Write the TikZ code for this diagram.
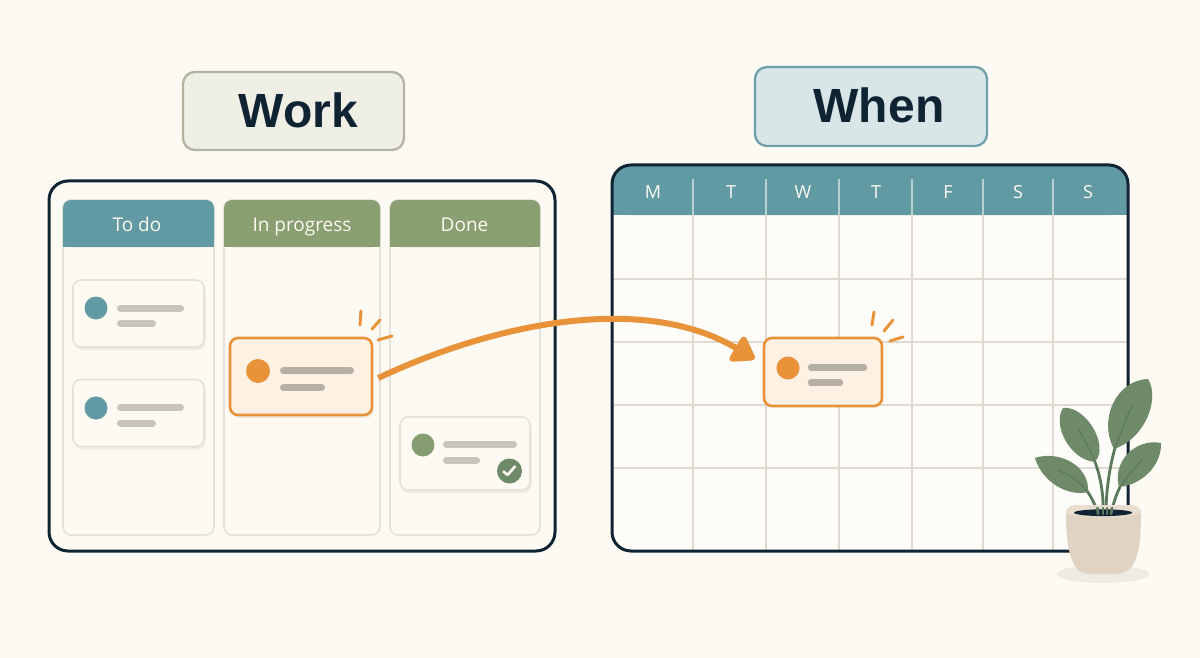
\documentclass[tikz,border=0pt]{standalone}
\usepackage{fontspec}
\setmainfont{Open Sans}
\newfontfamily\titlefont{Liberation Sans}
\usetikzlibrary{calc,shadows,arrows.meta}
\definecolor{paper}{HTML}{FDFAF3}
\definecolor{ink}{HTML}{0F2333}
\definecolor{teal}{HTML}{629AA3}
\definecolor{moss}{HTML}{8A9F72}
\definecolor{leafgreen}{HTML}{6F8A68}
\definecolor{veingreen}{HTML}{5A785C}
\definecolor{amber}{HTML}{E8923A}
\definecolor{amberfill}{HTML}{FDF1E4}
\definecolor{rule}{HTML}{E6E1D9}
\definecolor{gridrule}{HTML}{E0DAD1}
\definecolor{bar}{HTML}{C8C4BB}
\definecolor{barwarm}{HTML}{B6AFA4}
\definecolor{potclay}{HTML}{E0D3C1}
\definecolor{workfill}{HTML}{EFEFE5}
\definecolor{workline}{HTML}{B3B3A2}
\definecolor{whenfill}{HTML}{D9E6E8}
\definecolor{whenline}{HTML}{6FA0A8}
\tikzset{
  x=1pt, y=-1pt,
  titlebox/.style={draw, line width=2.3pt, rounded corners=12pt, inner sep=0pt},
  titletext/.style={font=\titlefont\fontsize{48}{48}\selectfont\bfseries, text=ink, inner sep=0pt},
  board/.style={draw=ink, line width=3pt, rounded corners=19pt, fill=paper},
  column/.style={draw=rule, line width=1.6pt, rounded corners=8pt, fill=paper, inner sep=0pt},
  headlabel/.style={font=\fontsize{19}{19}\selectfont, text=paper, inner sep=0pt, anchor=base},
  daylabel/.style={font=\fontsize{18}{18}\selectfont, text=paper, inner sep=0pt, anchor=base},
  card/.style={draw=rule, line width=1.6pt, rounded corners=8pt, fill=paper, inner sep=0pt,
    general shadow={fill=black!6!paper, shadow xshift=1.5pt, shadow yshift=-3pt}},
  activecard/.style={draw=amber, line width=2.6pt, rounded corners=8pt, fill=amberfill, inner sep=0pt},
  dot/.style={circle, inner sep=0pt, minimum size=23pt, fill=#1},
  textbar/.style={line cap=round, line width=7pt, draw=bar},
  warmbar/.style={line cap=round, line width=7pt, draw=barwarm},
  spark/.style={line cap=round, line width=3pt, draw=amber},
  flow/.style={draw=amber, line width=6pt, -{Triangle[length=25pt,width=32pt,round]}},
  gridline/.style={draw=gridrule, line width=1.8pt},
  headrule/.style={draw=white!35!teal!70!paper, line width=1.5pt},
  leaf/.style={fill=leafgreen},
  vein/.style={draw=veingreen, line width=1.2pt, line cap=round},
  stem/.style={draw=veingreen, line width=2.8pt, line cap=round},
}
\begin{document}
\begin{tikzpicture}
\path[use as bounding box, fill=paper] (0,0) rectangle (1200,658);

% Titles
\node[titlebox, draw=workline, fill=workfill, minimum width=221pt, minimum height=78pt] (worktitle) at (293.5,111) {};
\node[titletext] (worklabel) at (298.5,110) {Work};
\node[titlebox, draw=whenline, fill=whenfill, minimum width=232pt, minimum height=79pt] (whentitle) at (871,106.5) {};
\node[titletext] (whenlabel) at (879,105) {When};

% Kanban board
\path[board] (49,181) rectangle (555,551);

\node[column, minimum width=151pt, minimum height=335pt] (coltodo) at (138.5,367.5) {};
\node[column, minimum width=156pt, minimum height=335pt] (colprogress) at (302,367.5) {};
\node[column, minimum width=150pt, minimum height=335pt] (coldone) at (465,367.5) {};

\fill[teal, rounded corners=8pt] (63,247) -- (63,200) -- (214,200) -- (214,247) -- cycle;
\fill[moss, rounded corners=8pt] (224,247) -- (224,200) -- (380,200) -- (380,247) -- cycle;
\fill[moss, rounded corners=8pt] (390,247) -- (390,200) -- (540,200) -- (540,247) -- cycle;
\fill[teal] (63,238) rectangle (214,247);
\fill[moss] (224,238) rectangle (380,247);
\fill[moss] (390,238) rectangle (540,247);
\node[headlabel] (headtodo) at (137,231) {To do};
\node[headlabel] (headprogress) at (302,231) {In progress};
\node[headlabel] (headdone) at (464.5,231) {Done};

% To do cards
\node[card, minimum width=131pt, minimum height=67pt] (cardone) at (138.5,313.5) {};
\node[dot=teal] (dotone) at (96,308) {};
\draw[textbar] (120.5,308) -- (180.5,308);
\draw[textbar] (120.5,323.5) -- (152.5,323.5);
\node[card, minimum width=131pt, minimum height=67pt] (cardtwo) at (138.5,413) {};
\node[dot=teal] (dottwo) at (96,408) {};
\draw[textbar] (120.5,407.5) -- (180.5,407.5);
\draw[textbar] (120.5,423) -- (152.5,423);

% Done card with its check badge
\node[card, minimum width=130pt, minimum height=73pt] (carddone) at (465,453.5) {};
\node[dot=moss!85!leafgreen] (dotdone) at (423,445) {};
\draw[textbar] (446.5,444.5) -- (513.5,444.5);
\draw[textbar] (446.5,460) -- (476.5,460);
\node[circle, inner sep=0pt, minimum size=25pt, fill=leafgreen] (badge) at (509.5,471) {};
\draw[draw=paper, line width=2.6pt, line cap=round, line join=round] (503.5,471.5) -- (507.5,475) -- (515,466.5);

% Card being moved, on the board
\node[activecard, general shadow={fill=black!6!paper, shadow xshift=1.5pt, shadow yshift=-3pt}, minimum width=142pt, minimum height=77pt] (cardwip) at (301,376.5) {};
\node[dot=amber, minimum size=24pt] (dotwip) at (258,371) {};
\draw[warmbar] (283.5,370.5) -- (350.5,370.5);
\draw[warmbar] (283.5,387.5) -- (321.5,387.5);
\draw[spark] (361,311) -- (360,325);
\draw[spark] (380,320) -- (372,329);
\draw[spark] (392,336) -- (378,340);

% Calendar
\fill[paper!60!white, rounded corners=18pt] (612,165) rectangle (1128,551);
\fill[teal, rounded corners=18pt] (612,215) -- (612,165) -- (1128,165) -- (1128,215) -- cycle;
\fill[teal] (612,200) rectangle (1128,215);
\foreach \xpos in {693,766,839,912,983,1053} {
  \draw[headrule] (\xpos,179) -- (\xpos,215);
  \draw[gridline] (\xpos,215) -- (\xpos,551);
}
\foreach \ypos in {279,342,405,468} {
  \draw[gridline] (612,\ypos) -- (1128,\ypos);
}
\path[board, fill=none] (612,165) rectangle (1128,551);
\node[daylabel] (mon) at (653,198.5) {M};
\node[daylabel] (tue) at (731,198.5) {T};
\node[daylabel] (wed) at (803,198.5) {W};
\node[daylabel] (thu) at (876,198.5) {T};
\node[daylabel] (fri) at (948,198.5) {F};
\node[daylabel] (sat) at (1018,198.5) {S};
\node[daylabel] (sun) at (1088,198.5) {S};

% Same card, placed on the calendar
\node[activecard, minimum width=118pt, minimum height=68pt] (cardslot) at (823,372) {};
\node[dot=amber] (dotslot) at (788,368) {};
\draw[warmbar, line width=6.5pt] (811,367.5) -- (864,367.5);
\draw[warmbar, line width=6.5pt] (811,382.5) -- (840,382.5);
\draw[spark] (874,312) -- (872,325);
\draw[spark] (893,320) -- (884,331);
\draw[spark] (903,337) -- (890,341);

% Arrow from the board to the calendar
\coordinate (flowstart) at ($(cardwip.east)+(5,1.5)$);
\coordinate (flowend) at ($(cardslot.west)+(-8,-13)$);
\draw[flow] (flowstart) .. controls +(110,-52) and +(-115,-68) .. (flowend);

% Potted plant
\fill[black!6!paper] (1103,574) ellipse [x radius=46, y radius=9];
\draw[stem] (1098,513) .. controls (1095,505) and (1092,498) .. (1087,491);
\draw[stem] (1103,513) .. controls (1104,495) and (1100,475) .. (1095,462);
\draw[stem] (1106,513) .. controls (1106,490) and (1110,465) .. (1115,448);
\draw[stem] (1111,513) .. controls (1113,505) and (1116,495) .. (1120,487);
\fill[leaf] (1035,458) .. controls (1058,450) and (1090,465) .. (1088,492)
  .. controls (1068,497) and (1042,482) .. (1035,458) -- cycle;
\fill[leaf] (1063,408) .. controls (1085,405) and (1110,445) .. (1095,462)
  .. controls (1070,460) and (1052,425) .. (1063,408) -- cycle;
\fill[leaf] (1148,379) .. controls (1160,398) and (1146,438) .. (1114,449)
  .. controls (1098,420) and (1116,380) .. (1148,379) -- cycle;
\fill[leaf] (1161,443) .. controls (1162,465) and (1142,485) .. (1119,487)
  .. controls (1112,462) and (1135,438) .. (1161,443) -- cycle;
\draw[vein] (1058,470) .. controls (1070,475) and (1080,482) .. (1087,491);
\draw[vein] (1078,429) .. controls (1085,440) and (1090,450) .. (1095,462);
\draw[vein] (1132,406) .. controls (1125,420) and (1120,435) .. (1115,448);
\draw[vein] (1142,460) .. controls (1135,467) and (1127,477) .. (1120,487);
% pot body, rim and soil
\fill[potclay] (1066,513) .. controls (1066,508) and (1070,505) .. (1080,505)
  -- (1127,505) .. controls (1137,505) and (1141,508) .. (1141,513)
  .. controls (1141,535) and (1140,555) .. (1132,566)
  .. controls (1128,572) and (1122,574) .. (1115,574) -- (1091,574)
  .. controls (1084,574) and (1078,572) .. (1075,566)
  .. controls (1068,555) and (1066,535) .. (1066,513) -- cycle;
\fill[potclay!70!paper] (1066,513) .. controls (1066,508) and (1070,505) .. (1080,505)
  -- (1127,505) .. controls (1137,505) and (1141,508) .. (1141,513)
  .. controls (1130,519) and (1077,519) .. (1066,513) -- cycle;
\fill[ink] (1103,512.7) ellipse [x radius=29, y radius=3.4];
\draw[stem] (1098,514) -- (1097.5,508);
\draw[stem] (1103,514) -- (1103,508);
\draw[stem] (1107,514) -- (1107,508);
\draw[stem] (1111,514) -- (1112,508);
\end{tikzpicture}
\end{document}
